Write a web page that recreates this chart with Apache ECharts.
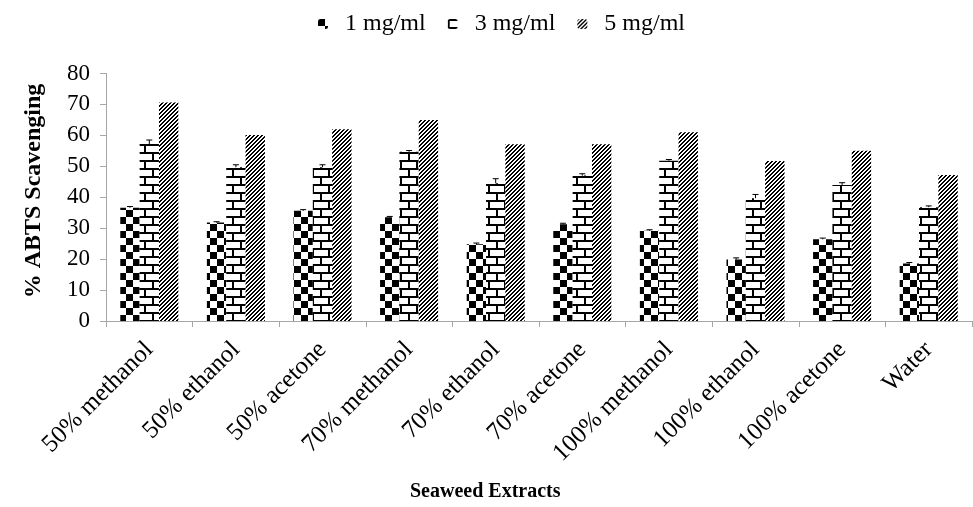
<!DOCTYPE html>
<html>
<head>
<meta charset="utf-8">
<script src="https://cdn.jsdelivr.net/npm/echarts@6/dist/echarts.min.js"></script>
<style>
html,body{margin:0;padding:0;background:#fff;}
#chart{width:973px;height:507px;}
</style>
</head>
<body>
<div id="chart"></div>
<script>
var categories = ['50% methanol','50% ethanol','50% acetone','70% methanol','70% ethanol','70% acetone','100% methanol','100% ethanol','100% acetone','Water'];
var seriesNames = ['1 mg/ml','3 mg/ml','5 mg/ml'];
var mg1 = [36.6,31.8,35.6,33.5,24.8,31.3,29.2,19.9,26.4,18.6];
var mg3 = [57.2,49.7,49.7,54.7,44.5,47.0,51.8,39.7,44.0,36.8];
var mg5 = [70.6,60.1,62.0,65.0,57.1,57.1,61.0,51.7,55.0,47.2];
var err1 = [0.4,0.3,0.4,0.3,0.4,0.3,0.3,0.5,0.4,0.3];
var err3 = [1.3,0.8,0.8,0.4,1.5,0.6,0.4,1.2,0.7,0.4];
var yTicks = [0,10,20,30,40,50,60,70,80];

function tile(w, h, fn) {
  var c = document.createElement('canvas');
  c.width = w; c.height = h;
  var ctx = c.getContext('2d');
  ctx.fillStyle = '#ffffff';
  ctx.fillRect(0, 0, w, h);
  ctx.fillStyle = '#000000';
  fn(ctx, w, h);
  return c;
}
var checker = tile(14, 14, function (ctx) {
  ctx.fillRect(0, 0, 7, 7);
  ctx.fillRect(7, 7, 7, 7);
});
var brick = tile(16, 16, function (ctx) {
  ctx.fillRect(0, 0, 16, 2);
  ctx.fillRect(0, 8, 16, 2);
  ctx.fillRect(0, 2, 2, 6);
  ctx.fillRect(8, 10, 2, 6);
});
var diag = tile(4, 4, function (ctx) {
  for (var x = 0; x < 4; x++) for (var y = 0; y < 4; y++) {
    if ((x + y) % 4 < 2) ctx.fillRect(x, y, 1, 1);
  }
});
var patterns = [checker, brick, diag];
var values = [mg1, mg3, mg5];
var errs = [err1, err3, null];
var catGap = 0.33;

var serif = 'Liberation Serif';
var chart = echarts.init(document.getElementById('chart'), null, {renderer: 'canvas'});

var series = [];
values.forEach(function (vals, i) {
  series.push({
    name: seriesNames[i],
    type: 'bar',
    data: vals,
    barGap: '0%',
    barCategoryGap: (catGap * 100) + '%',
    itemStyle: {color: {image: patterns[i], repeat: 'repeat'}},
    emphasis: {disabled: true},
    animation: false
  });
});
[0, 1].forEach(function (i) {
  series.push({
    type: 'custom',
    name: 'err' + i,
    data: values[i].map(function (v, k) { return [k, v, errs[i][k]]; }),
    renderItem: function (params, api) {
      var k = api.value(0), v = api.value(1), e = api.value(2);
      var band = api.size([1, 0])[0];
      var bw = band * (1 - catGap) / 3;
      var off = (i - 1) * bw;
      var p0 = api.coord([k, v]);
      var p1 = api.coord([k, v + e]);
      var x = p0[0] + off;
      return {
        type: 'group',
        children: [
          {type: 'line', shape: {x1: x, y1: p0[1], x2: x, y2: p1[1]}, style: {stroke: '#000', lineWidth: 1}},
          {type: 'line', shape: {x1: x - 3, y1: p1[1], x2: x + 3, y2: p1[1]}, style: {stroke: '#000', lineWidth: 1}}
        ]
      };
    },
    z: 5,
    silent: true,
    animation: false
  });
});

chart.setOption({
  animation: false,
  backgroundColor: '#ffffff',
  textStyle: {fontFamily: serif},
  legend: {
    data: seriesNames,
    left: 313,
    top: 7,
    itemWidth: 10,
    itemHeight: 10,
    itemGap: 22,
    textStyle: {fontFamily: serif, fontSize: 24, color: '#000', padding: [0, 0, 0, 12]}
  },
  grid: {left: 106, right: 1, top: 73.5, bottom: 186, containLabel: false},
  xAxis: {
    type: 'category',
    data: categories,
    axisLine: {lineStyle: {color: '#a6a6a6', width: 1}},
    axisTick: {show: true, length: 6, lineStyle: {color: '#a6a6a6'}},
    axisLabel: {rotate: 45, margin: 25, fontFamily: serif, fontSize: 25, color: '#000', interval: 0}
  },
  yAxis: {
    type: 'value',
    min: yTicks[0],
    max: yTicks[yTicks.length - 1],
    interval: 10,
    splitLine: {show: false},
    axisLine: {show: true, lineStyle: {color: '#a6a6a6', width: 1}},
    axisTick: {show: true, length: 6, lineStyle: {color: '#a6a6a6'}},
    axisLabel: {fontFamily: serif, fontSize: 23, color: '#000', margin: 16}
  },
  graphic: [
    {type: 'text', left: 410, top: 482, style: {text: 'Seaweed Extracts', font: 'bold 20px "Liberation Serif"', fill: '#000'}},
    {type: 'text', x: 34, y: 191, rotation: Math.PI / 2,
     style: {text: '% ABTS Scavenging', font: 'bold 24px "Liberation Serif"', fill: '#000', align: 'center', verticalAlign: 'middle'}}
  ],
  series: series
});
</script>
</body>
</html>
